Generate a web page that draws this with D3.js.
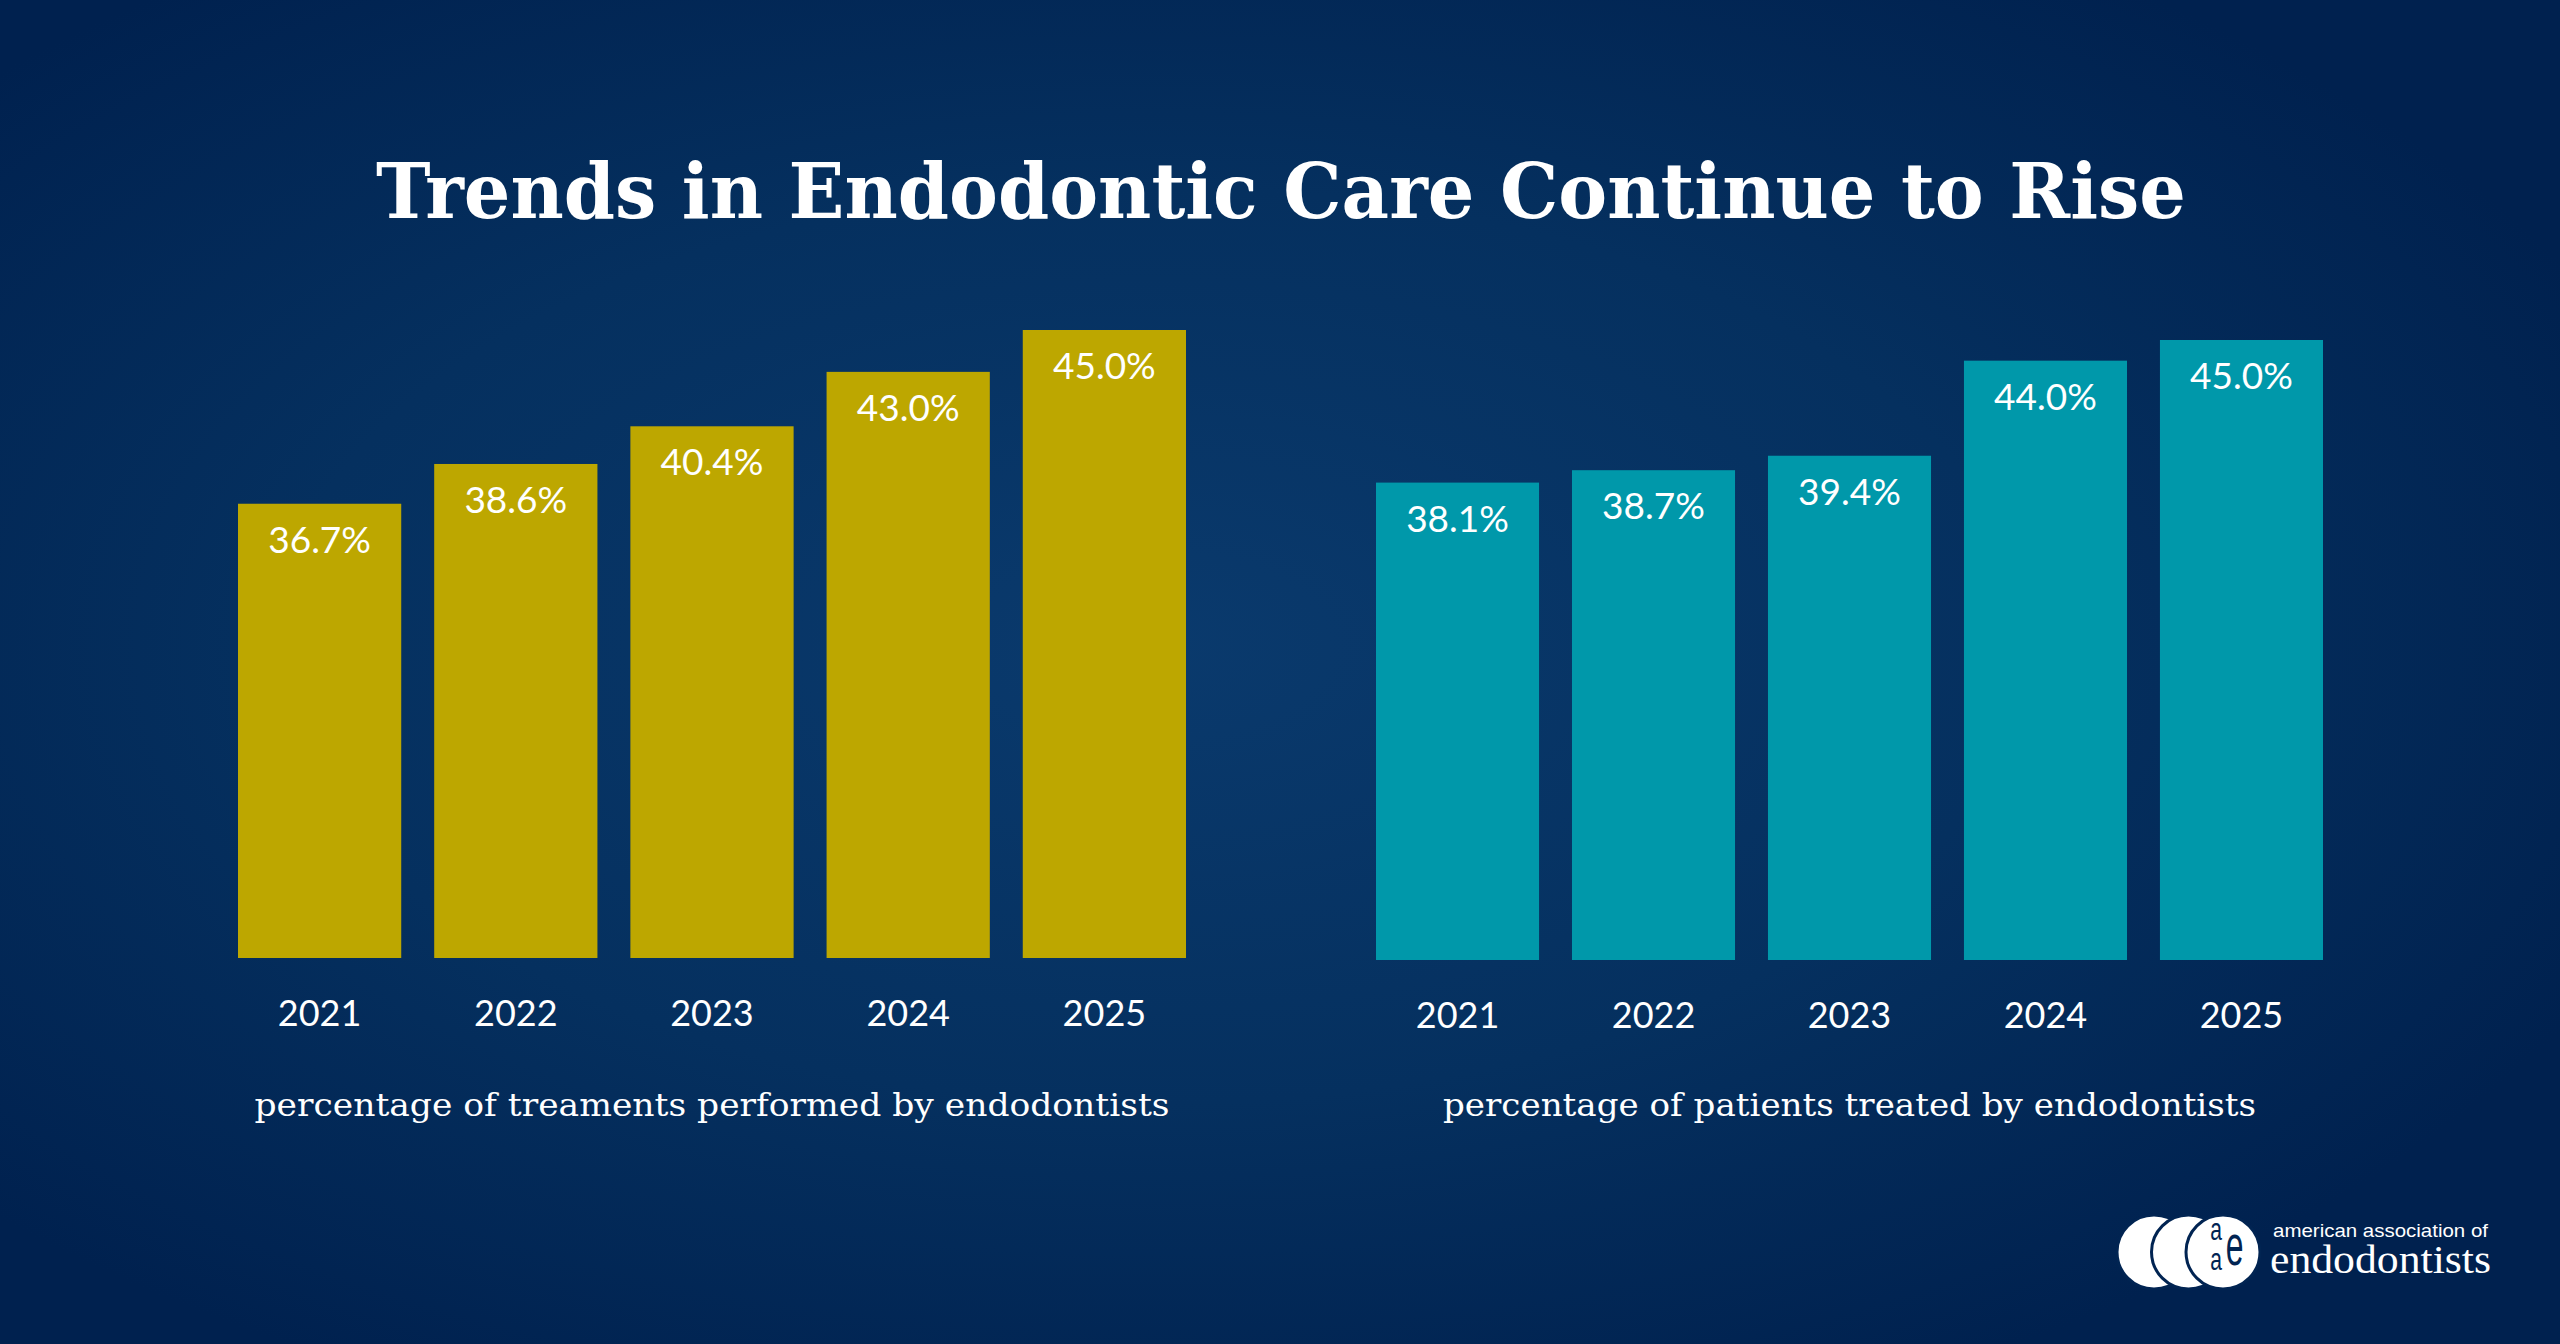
<!DOCTYPE html>
<html>
<head>
<meta charset="utf-8">
<script src="https://cdn.jsdelivr.net/npm/d3@7"></script>
<style>
  html, body { margin: 0; padding: 0; background: #012452; overflow: hidden; }
  svg { display: block; }
</style>
</head>
<body>
<svg id="chart" width="2560" height="1344"></svg>
<script>
// ---- data ----
const years = ["2021", "2022", "2023", "2024", "2025"];
const treatmentsPct = [36.7, 38.6, 40.4, 43.0, 45.0];
const patientsPct = [38.1, 38.7, 39.4, 44.0, 45.0];
const titleText = "Trends in Endodontic Care Continue to Rise";
const leftCaption = "percentage of treaments performed by endodontists";
const rightCaption = "percentage of patients treated by endodontists";

const W = 2560, H = 1344;
const svg = d3.select("#chart");
const defs = svg.append("defs");

// background
const bg = defs.append("radialGradient").attr("id", "bg")
  .attr("cx", "45%").attr("cy", "48%").attr("r", "62%");
bg.append("stop").attr("offset", "0%").attr("stop-color", "#0a3a6d");
bg.append("stop").attr("offset", "55%").attr("stop-color", "#05305f");
bg.append("stop").attr("offset", "100%").attr("stop-color", "#00214f");
svg.append("rect").attr("width", W).attr("height", H).attr("fill", "url(#bg)");

// title
svg.append("text")
  .attr("x", 1281).attr("y", 218)
  .attr("text-anchor", "middle")
  .attr("font-family", "'DejaVu Serif', serif")
  .attr("font-weight", 700)
  .attr("font-size", 77)
  .attr("fill", "#ffffff")
  .attr("textLength", 1810)
  .attr("lengthAdjust", "spacingAndGlyphs")
  .text(titleText);

const fmt = d3.format(".1f");

function panel(cfg) {
  const g = svg.append("g");
  const x = d3.scaleBand().domain(years).range([cfg.x0, cfg.x1]).paddingInner(0.168).paddingOuter(0);
  const y = d3.scaleLinear().domain([15, 45]).range([cfg.base, cfg.top]);
  const data = years.map((yr, i) => ({ year: yr, v: cfg.values[i] }));

  g.selectAll("rect.bar").data(data).join("rect")
    .attr("class", "bar")
    .attr("x", d => x(d.year))
    .attr("y", d => y(d.v))
    .attr("width", x.bandwidth())
    .attr("height", d => cfg.base - y(d.v))
    .attr("fill", cfg.color);

  g.selectAll("text.val").data(data).join("text")
    .attr("class", "val")
    .attr("x", d => x(d.year) + x.bandwidth() / 2)
    .attr("y", d => y(d.v) + 49)
    .attr("text-anchor", "middle")
    .attr("font-family", "Lato, sans-serif")
    .attr("font-size", 37)
    .attr("fill", "#ffffff")
    .text(d => fmt(d.v) + "%");

  const axis = g.append("g")
    .attr("transform", `translate(0,${cfg.base})`)
    .call(d3.axisBottom(x).tickSize(0).tickPadding(42));
  axis.select(".domain").remove();
  axis.selectAll("text")
    .attr("font-family", "Lato, sans-serif")
    .attr("font-size", 36)
    .attr("fill", "#ffffff");

  g.append("text")
    .attr("x", (cfg.x0 + cfg.x1) / 2).attr("y", 1116)
    .attr("text-anchor", "middle")
    .attr("font-family", "'DejaVu Serif', serif")
    .attr("font-size", 31)
    .attr("fill", "#ffffff")
    .attr("textLength", cfg.capLen)
    .attr("lengthAdjust", "spacingAndGlyphs")
    .text(cfg.caption);
}

panel({ x0: 238, x1: 1186, base: 958, top: 330, values: treatmentsPct, color: "#bda700", caption: leftCaption, capLen: 915 });
panel({ x0: 1376, x1: 2323, base: 960, top: 340, values: patientsPct, color: "#0098aa", caption: rightCaption, capLen: 813 });

// logo
const logo = svg.append("g");
[2154, 2188.5, 2223].forEach(cx => {
  logo.append("circle").attr("cx", cx).attr("cy", 1252).attr("r", 37)
    .attr("fill", "#ffffff").attr("stroke", "#012452").attr("stroke-width", 3);
});
logo.append("text").attr("transform", "translate(2216,1240) scale(0.68,1)")
  .attr("text-anchor", "middle").attr("font-family", "'Liberation Sans', sans-serif")
  .attr("font-size", 31).attr("fill", "#012452").text("a");
logo.append("text").attr("transform", "translate(2216,1270) scale(0.68,1)")
  .attr("text-anchor", "middle").attr("font-family", "'Liberation Sans', sans-serif")
  .attr("font-size", 31).attr("fill", "#012452").text("a");
logo.append("text").attr("transform", "translate(2234.5,1265) scale(0.55,1)")
  .attr("text-anchor", "middle").attr("font-family", "'Liberation Sans', sans-serif")
  .attr("font-size", 58).attr("fill", "#012452").text("e");
logo.append("text").attr("x", 2273).attr("y", 1237)
  .attr("font-family", "'Liberation Sans', sans-serif").attr("font-size", 19)
  .attr("fill", "#ffffff").attr("textLength", 215).attr("lengthAdjust", "spacingAndGlyphs")
  .text("american association of");
logo.append("text").attr("x", 2270).attr("y", 1273)
  .attr("font-family", "'Liberation Serif', serif").attr("font-size", 40)
  .attr("fill", "#ffffff").attr("textLength", 221).attr("lengthAdjust", "spacingAndGlyphs")
  .text("endodontists");
</script>
</body>
</html>
